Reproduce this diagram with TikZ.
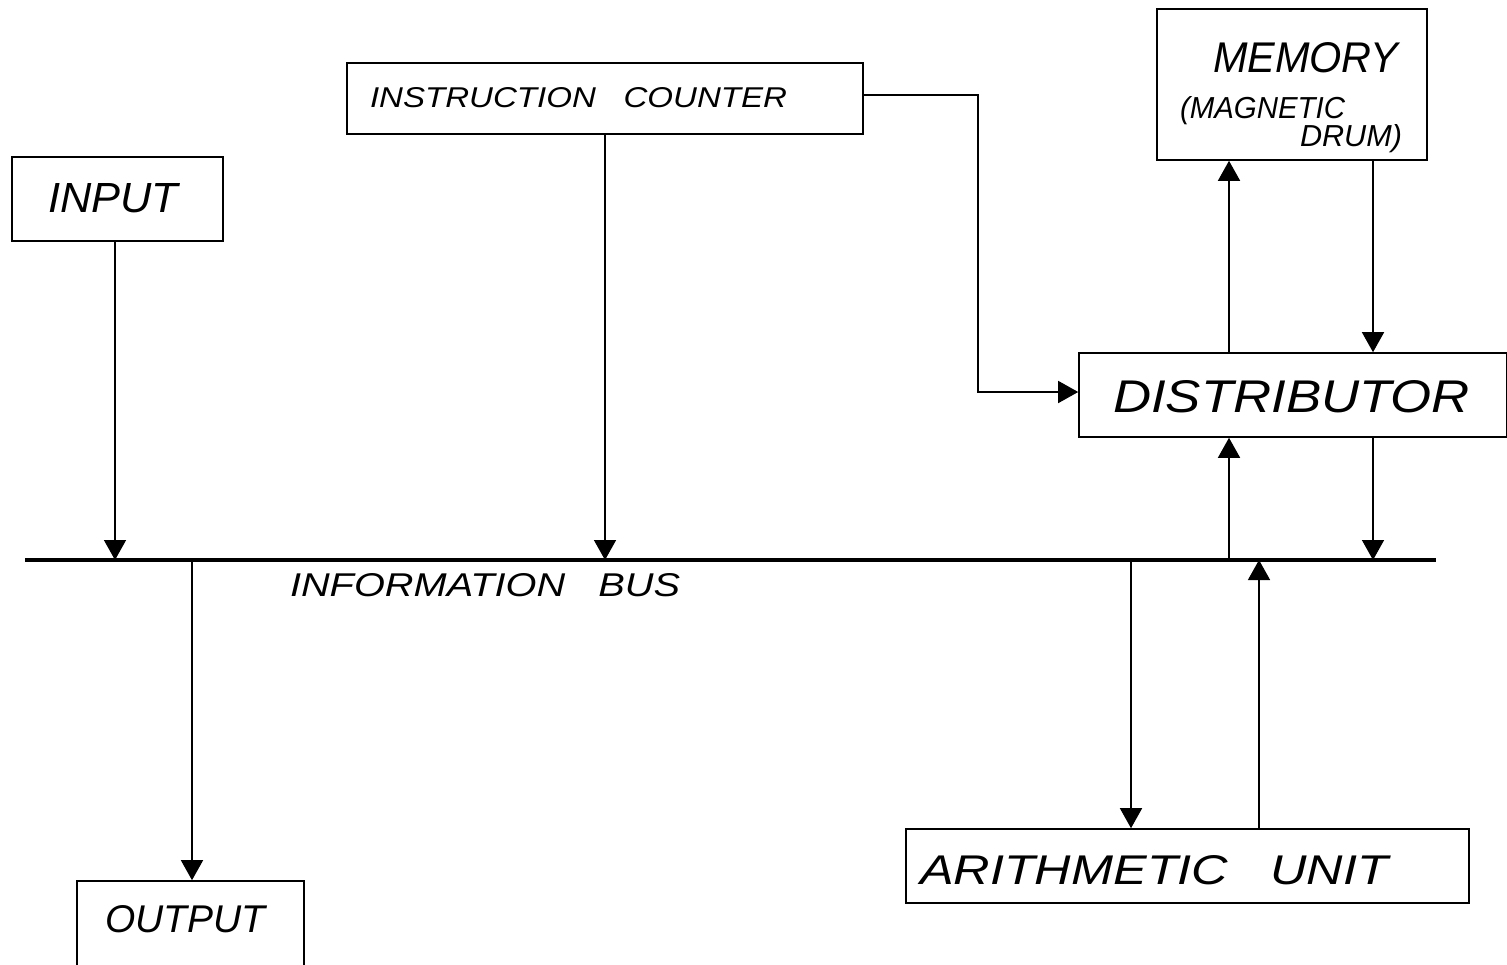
\documentclass[tikz,border=0pt]{standalone}
\usepackage{fontspec}
\setmainfont{Liberation Sans}
\usepackage{graphicx}
\usetikzlibrary{arrows.meta}
\newcommand{\lbl}[3]{\resizebox{#1}{#2}{\itshape #3}}
\begin{document}
\begin{tikzpicture}[x=1pt,y=-1pt,
  box/.style={draw,line width=1.6pt,rectangle,inner sep=0pt},
  txt/.style={anchor=base west,inner sep=0pt,outer sep=0pt},
  arr/.style={line width=1.5pt,-{Triangle[length=20pt,width=22pt]}},
  busline/.style={line width=4.5pt}]
\useasboundingbox (0,0) rectangle (1507,964);
\clip (0,0) rectangle (1507,964);
% boxes
\node[box,minimum width=211pt,minimum height=84pt] (input) at (117.5,199) {};
\node[box,minimum width=516pt,minimum height=71pt] (ic) at (605,98.5) {};
\node[box,minimum width=270pt,minimum height=151pt] (mem) at (1292,84.5) {};
\node[box,minimum width=428pt,minimum height=84pt] (dist) at (1293,395) {};
\node[box,minimum width=563pt,minimum height=74pt] (au) at (1187.5,866) {};
\node[box,minimum width=227pt,minimum height=110pt] (out) at (190.5,936) {};
% texts
\node[txt] (tin) at (48,212) {\lbl{130pt}{29pt}{INPUT}};
\node[txt] (tic) at (370,107) {\lbl{417pt}{20pt}{INSTRUCTION\ \ \ COUNTER}};
\node[txt] (tmem) at (1213,72) {\lbl{185pt}{30pt}{MEMORY}};
\node[txt] (tmag) at (1180,118) {\lbl{165pt}{22pt}{(MAGNETIC}};
\node[txt] (tdrum) at (1300,146) {\lbl{102pt}{22pt}{DRUM)}};
\node[txt] (tdist) at (1113,412) {\lbl{357pt}{32pt}{DISTRIBUTOR}};
\node[txt] (tbus) at (290,596) {\lbl{390pt}{23pt}{INFORMATION\ \ \ BUS}};
\node[txt] (tau) at (920,884) {\lbl{468pt}{29pt}{ARITHMETIC\ \ \ UNIT}};
\node[txt] (tout) at (105,932) {\lbl{160pt}{27pt}{OUTPUT}};
% bus
\coordinate (busL) at (25,560);
\coordinate (busR) at (1436,560);
\draw[busline] (busL) -- (busR);
% helper x positions
\coordinate (xA) at (1229,0);
\coordinate (xB) at (1373,0);
\coordinate (xC) at (1131,0);
\coordinate (xD) at (1259,0);
\coordinate (xO) at (192,0);
\coordinate (xI) at (115,0);
% connectors
\draw[arr] (input.south -| xI) -- (busL -| xI);
\draw[arr] (ic.south) -- (ic.south |- busL);
\draw[arr] ([yshift=3.5pt]ic.east) -- ++(114,0) |- ([yshift=3pt]dist.west);
\draw[arr] (dist.north -| xA) -- (mem.south -| xA);
\draw[arr] (mem.south -| xB) -- (dist.north -| xB);
\draw[arr] (busL -| xA) -- (dist.south -| xA);
\draw[arr] (dist.south -| xB) -- (busL -| xB);
\draw[arr] (busL -| xO) -- (out.north -| xO);
\draw[arr] (busL -| xC) -- (au.north -| xC);
\draw[arr] (au.north -| xD) -- (busL -| xD);
\end{tikzpicture}
\end{document}
